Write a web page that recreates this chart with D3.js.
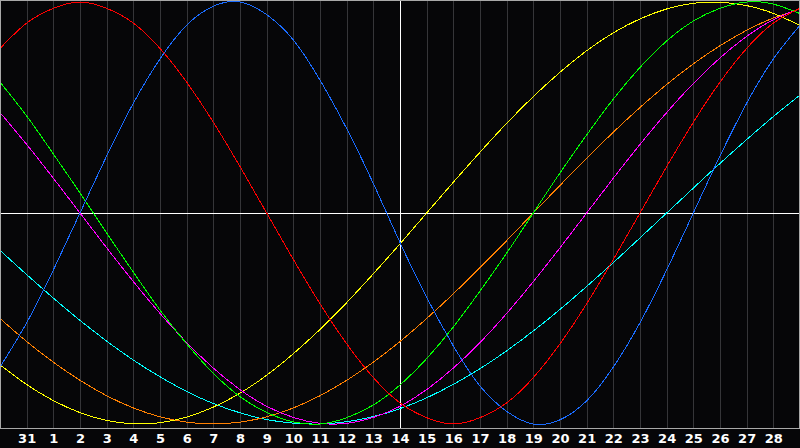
<!DOCTYPE html>
<html>
<head>
<meta charset="utf-8">
<script src="https://cdn.jsdelivr.net/npm/d3@7"></script>
<style>
  html, body { margin: 0; padding: 0; background: #060608; }
  svg { display: block; }
</style>
</head>
<body>
<svg width="800" height="448"></svg>
<script>
// etiquetas del eje x (dias)
const dayLabels = ["", "31", "1", "2", "3", "4", "5", "6", "7", "8", "9", "10", "11", "12", "13",
  "14", "15", "16", "17", "18", "19", "20", "21", "22", "23", "24", "25", "26", "27", "28", ""];

// valores, en % (-100..100), un punto por linea de dia
const red = [78, 90, 97, 100, 97, 90, 78, 62, 43, 22, 0, -22, -43, -62, -78, -90, -97, -100,
  -97, -90, -78, -62, -43, -22, 0, 22, 43, 62, 78, 90, 97];
const blue = [-73, -52, -27, 0, 27, 52, 73, 89, 98, 100, 94, 82, 63, 40, 14, -14, -40, -63,
  -82, -94, -100, -98, -89, -73, -52, -27, 0, 27, 52, 73, 89];
const green = [62, 46, 28, 9.5, -9.5, -28, -46, -62, -76, -87, -94.5, -99, -100, -97, -91,
  -81.5, -69, -54, -37, -19, 0, 19, 37, 54, 69, 81.5, 91, 97, 100, 99, 94.5];
const magenta = [47.6, 32.5, 16.5, 0, -16.5, -32.5, -47.6, -61.4, -73.5, -83.7, -91.6, -96.9,
  -99.7, -99.7, -96.9, -91.6, -83.7, -73.5, -61.4, -47.6, -32.5, -16.5, 0, 16.5, 32.5, 47.6,
  61.4, 73.5, 83.7, 91.6, 96.9];
const yellow = [-72, -81.3, -88.9, -94.6, -98.3, -99.9, -99.4, -96.7, -92, -85.4, -76.9, -66.7,
  -55.2, -42.5, -28.8, -14.6, 0, 14.6, 28.8, 42.5, 55.2, 66.7, 76.9, 85.4, 92, 96.7, 99.4,
  99.9, 98.3, 94.6, 88.9];
const orange = [-50, -60.9, -70.7, -79.3, -86.6, -92.4, -96.6, -99.1, -100, -99.1, -96.6, -92.4,
  -86.6, -79.3, -70.7, -60.9, -50, -38.3, -25.9, -13.1, 0, 13.1, 25.9, 38.3, 50, 60.9, 70.7,
  79.3, 86.6, 92.4, 96.6];
const cyan = [-17.7, -29.2, -40.3, -50.9, -60.7, -69.7, -77.6, -84.6, -90.3, -94.7, -97.9, -99.6,
  -100, -98.9, -96.5, -92.7, -87.6, -81.2, -73.8, -65.3, -55.9, -45.7, -34.8, -23.5, -11.8, 0,
  11.8, 23.5, 34.8, 45.7, 55.9];

const series = [
  { name: "cyan", color: "#00ffff", values: cyan },
  { name: "orange", color: "#ff8000", values: orange },
  { name: "yellow", color: "#ffff00", values: yellow },
  { name: "magenta", color: "#ff00ff", values: magenta },
  { name: "green", color: "#00ff00", values: green },
  { name: "blue", color: "#1a6cff", values: blue },
  { name: "red", color: "#ff0000", values: red }
];

const svg = d3.select("svg");
const plotW = 800, plotH = 428;

const x = d3.scaleLinear().domain([0, dayLabels.length - 1]).range([0, plotW]);
const y = d3.scaleLinear().domain([-100, 100]).range([424, 2]);

// fondo
svg.append("rect")
  .attr("x", 0).attr("y", 0)
  .attr("width", 800).attr("height", 448)
  .attr("fill", "#060608");

// lineas de dias
svg.append("g")
  .selectAll("line")
  .data(d3.range(1, dayLabels.length - 1))
  .enter()
  .append("line")
  .attr("x1", (d) => Math.round(x(d)) + 0.5)
  .attr("x2", (d) => Math.round(x(d)) + 0.5)
  .attr("y1", 0)
  .attr("y2", plotH)
  .attr("stroke", (d) => (d === 15 ? "#ffffff" : "#353538"))
  .attr("stroke-width", 1)
  .attr("shape-rendering", "crispEdges");

// linea central
svg.append("line")
  .attr("x1", 0).attr("x2", plotW)
  .attr("y1", Math.round(y(0)) + 0.5)
  .attr("y2", Math.round(y(0)) + 0.5)
  .attr("stroke", "#ffffff")
  .attr("shape-rendering", "crispEdges");

// curvas
const line = d3.line()
  .x((d, i) => x(i))
  .y((d) => y(d))
  .curve(d3.curveNatural);

svg.append("g")
  .selectAll("path")
  .data(series)
  .enter()
  .append("path")
  .attr("d", (d) => line(d.values))
  .attr("fill", "none")
  .attr("stroke", (d) => d.color)
  .attr("stroke-width", 1)
  .attr("shape-rendering", "crispEdges");

// marco
svg.append("rect")
  .attr("x", 0.5).attr("y", 0.5)
  .attr("width", plotW - 1).attr("height", plotH)
  .attr("fill", "none")
  .attr("stroke", "#a8a8a8")
  .attr("shape-rendering", "crispEdges");

// etiquetas del eje x
const xAxis = d3.axisBottom(x)
  .tickValues(d3.range(1, dayLabels.length - 1))
  .tickFormat((d) => dayLabels[d])
  .tickSize(0)
  .tickPadding(6);

const axisG = svg.append("g")
  .attr("transform", `translate(0,${plotH})`)
  .call(xAxis);
axisG.select(".domain").remove();
axisG.selectAll("text")
  .attr("fill", "#ffffff")
  .attr("font-family", "'DejaVu Sans', sans-serif")
  .attr("font-weight", "bold")
  .attr("font-size", 13);
</script>
</body>
</html>
